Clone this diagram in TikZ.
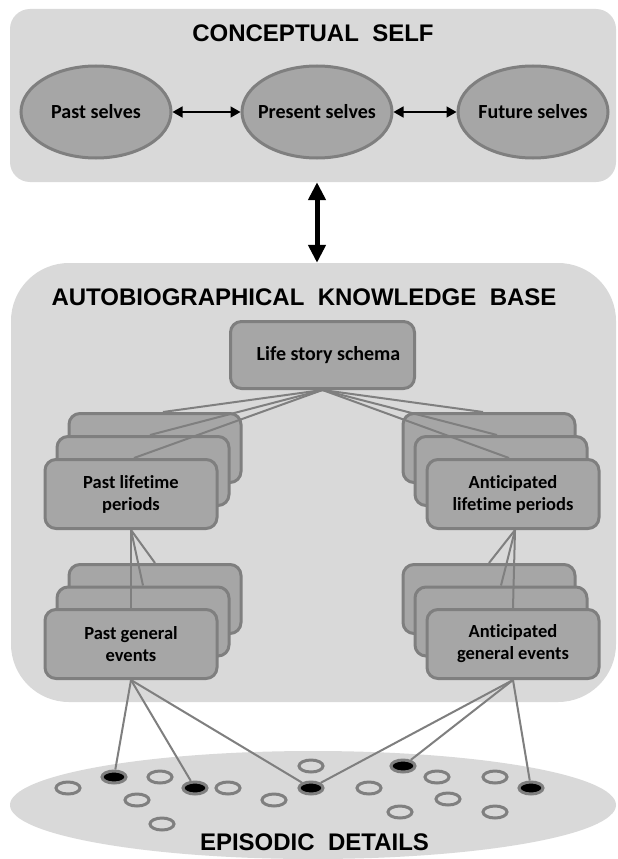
\documentclass[tikz,border=0pt]{standalone}
\usepackage{fontspec}
\setmainfont{Carlito}[Ligatures=NoCommon]
\newfontfamily\headfont{Liberation Sans}
\usepackage{xcolor}
\usepackage{tikz}
\usetikzlibrary{positioning,arrows.meta,shapes.geometric}

\definecolor{panelgrey}{HTML}{D9D9D9}
\definecolor{boxgrey}{HTML}{A6A6A6}
\definecolor{edgegrey}{HTML}{7F7F7F}

\begin{document}
\begin{tikzpicture}[
					x=1pt, y=-1pt,
					panel/.style={
						rectangle, draw=none, fill=panelgrey, inner sep=0pt
					},
					self_node/.style={
						ellipse, draw=edgegrey, line width=3pt, fill=boxgrey,
						minimum width=150pt, minimum height=92pt,
						inner xsep=-8pt, inner ysep=0pt,
						font=\bfseries\fontsize{20}{24}\selectfont
					},
					stack_box/.style={
						rectangle, rounded corners=11pt, draw=edgegrey, line width=3pt,
						fill=boxgrey, minimum width=172pt, minimum height=69pt,
						align=center, font=\bfseries\fontsize{18.5}{22}\selectfont
					},
					head_label/.style={
						anchor=base, font=\headfont\bfseries\fontsize{24}{28}\selectfont
					},
					dot_open/.style={
						ellipse, draw=edgegrey, line width=3pt, fill=panelgrey,
						minimum width=24pt, minimum height=12pt, inner sep=0pt
					},
					dot_hit/.style={dot_open, fill=black},
					link/.style={draw=edgegrey, line width=2pt},
					pair_arrow/.style={
						{Triangle[length=10pt,width=11pt]}-{Triangle[length=10pt,width=11pt]},
						line width=1.5pt
					},
					big_arrow/.style={
						{Triangle[length=18pt,width=17pt]}-{Triangle[length=18pt,width=17pt]},
						line width=5pt
					}
					]
					\path[use as bounding box, fill=white] (0,0) rectangle (618,859);
					
					% --- PANELS ---
					\node[panel, rounded corners=20pt, minimum width=606pt, minimum height=173pt] (self_panel) at (313,95.5) {};
					\node[panel, rounded corners=58pt, minimum width=605pt, minimum height=439pt] (akb_panel) at (313.5,482.5) {};
					\node[panel, ellipse, minimum width=606pt, minimum height=108pt] (episodic) at (313,805) {};
					
					\draw[big_arrow] ([xshift=4pt]self_panel.south) -- ([xshift=3.5pt]akb_panel.north);
					
					\node[head_label] (self_title) at (313,42) {CONCEPTUAL\ \ SELF};
					\node[head_label] (akb_title) at (304,305) {AUTOBIOGRAPHICAL\ \ KNOWLEDGE\ \ BASE};
					\node[head_label] (epi_title) at (314.5,850) {EPISODIC\ \ DETAILS};
					
					% --- CONCEPTUAL SELF ---
					\node[self_node] (past) at (96,112) {Past selves};
					\node[self_node] (present) at (317,112) {Present selves};
					\node[self_node] (future) at (533,112) {Future selves};
					\draw[pair_arrow] (past) -- (present);
					\draw[pair_arrow] (present) -- (future);
					
					% --- KNOWLEDGE BASE ---
					\node[stack_box, minimum width=184pt, minimum height=67pt,
						font=\bfseries\fontsize{20}{24}\selectfont] (schema) at (322.5,355) {\hspace*{12pt}Life story schema};
					
					\node[stack_box] (plp3) at (155,448) {};
					\node[stack_box] (plp2) at (143,471) {};
					\node[stack_box] (plp1) at (131,494) {Past lifetime\\periods};
					
					\node[stack_box] (alp3) at (489,448) {};
					\node[stack_box] (alp2) at (501,471) {};
					\node[stack_box] (alp1) at (513,494) {Anticipated\\lifetime periods};
					
					\node[stack_box] (pge3) at (155,599) {};
					\node[stack_box] (pge2) at (143,621.5) {};
					\node[stack_box] (pge1) at (131,644) {Past general\\events};
					
					\node[stack_box] (age3) at (489,599) {};
					\node[stack_box] (age2) at (501,621.5) {};
					\node[stack_box] (age1) at (513,644) {Anticipated\\general events};
					
					\draw[link] (schema.south) -- ([xshift=8pt]plp3.north);
					\draw[link] (schema.south) -- ([xshift=7pt]plp2.north);
					\draw[link] (schema.south) -- ([xshift=3pt]plp1.north);
					\draw[link] (schema.south) -- ([xshift=-6pt]alp3.north);
					\draw[link] (schema.south) -- ([xshift=-4pt]alp2.north);
					\draw[link] (schema.south) -- ([xshift=-4pt]alp1.north);
					
					\draw[link] (plp1.south) -- (pge3.north);
					\draw[link] (plp1.south) -- (pge2.north);
					\draw[link] (plp1.south) -- (pge1.north);
					\draw[link] ([xshift=2pt]alp1.south) -- (age3.north);
					\draw[link] ([xshift=2pt]alp1.south) -- (age2.north);
					\draw[link] ([xshift=2pt]alp1.south) -- (age1.north);
					
					% --- EPISODIC DETAILS ---
					\foreach \p [count=\i] in {(68,788),(160,777),(137,800),(162,824),(228,788),
						(274,800),(311,766),(369,788),(437,777),(448,799),(400,812),(495,777),(495,812)}
						\node[dot_open] (o\i) at \p {};
					
					\node[dot_hit] (e1) at (114,777) {};
					\node[dot_hit] (e2) at (195,788) {};
					\node[dot_hit] (e3) at (311,788) {};
					\node[dot_hit] (e4) at (403,766) {};
					\node[dot_hit] (e5) at (531,788) {};
					
					\draw[link] (pge1.south) -- (e1);
					\draw[link] (pge1.south) -- (e2);
					\draw[link] (pge1.south) -- (e3);
					\draw[link] (age1.south) -- (e3);
					\draw[link] (age1.south) -- (e4);
					\draw[link] (age1.south) -- (e5);
					
				\end{tikzpicture}
\end{document}
